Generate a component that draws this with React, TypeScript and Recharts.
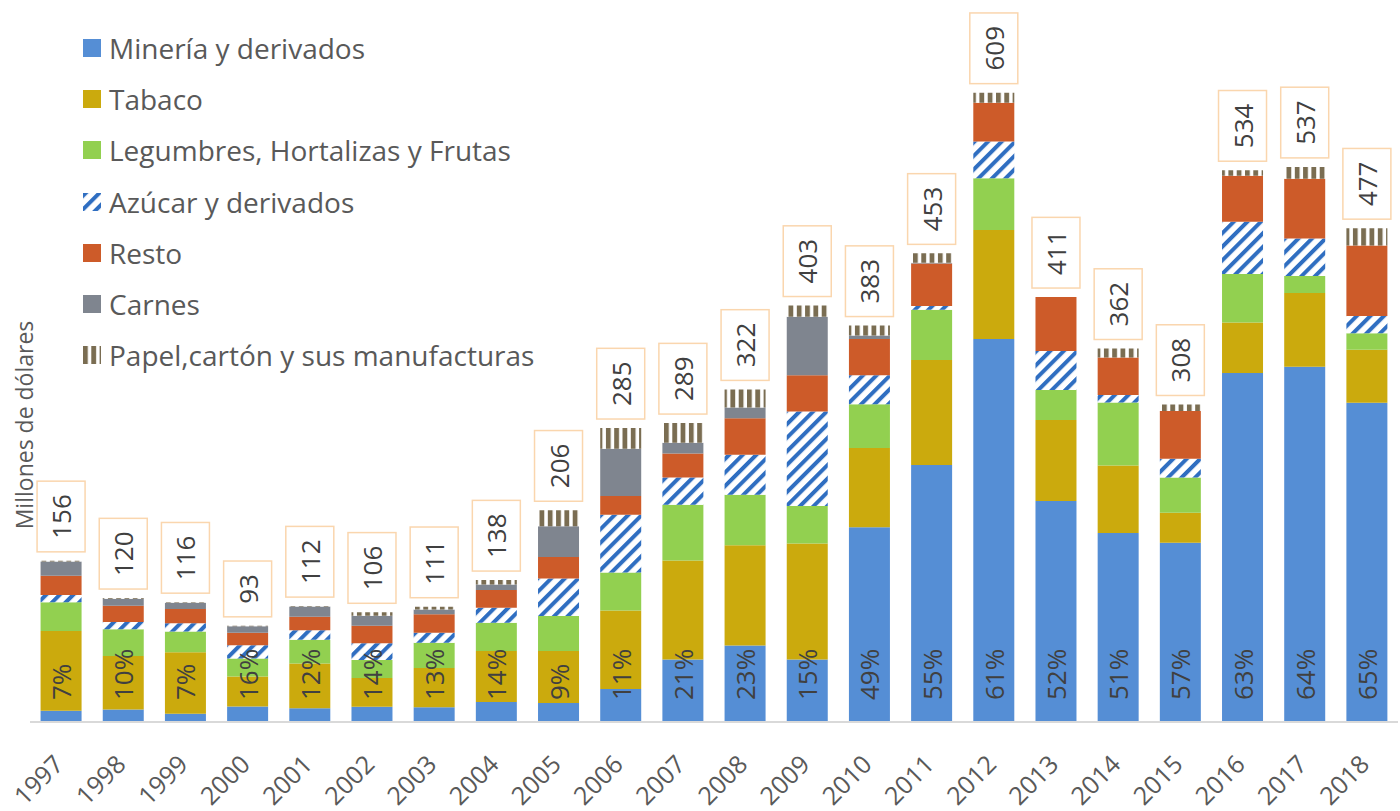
import { BarChart, Bar, XAxis, YAxis, LabelList } from "recharts";

const years = ["1997", "1998", "1999", "2000", "2001", "2002", "2003", "2004", "2005", "2006", "2007", "2008", "2009", "2010", "2011", "2012", "2013", "2014", "2015", "2016", "2017", "2018"];

const mineria = [11, 12, 8, 15, 13.4, 14.8, 14.4, 19.3, 18.5, 31.9, 60.6, 74, 60.6, 188.5, 248.8, 370.7, 214, 182.9, 173.6, 338, 343.9, 309];
const tabaco = [77, 51.8, 59.5, 29, 43.3, 27.8, 37.8, 49.4, 50.3, 76.1, 95.7, 97, 112.1, 76.7, 101.6, 105.7, 78.3, 65.5, 29, 48.8, 71.5, 51.3];
const legumbres = [28, 26.1, 20, 17.4, 22.9, 17.4, 24.6, 27.5, 33.9, 36.8, 54.1, 49, 36.4, 42.5, 48.6, 50, 29.2, 61, 34.1, 47, 16.4, 16];
const azucar = [7, 6.8, 8, 13, 9.3, 16.2, 9.7, 14.5, 36.2, 55.9, 26.2, 38.7, 91.6, 28.1, 3.8, 35.6, 37.6, 7.2, 18.1, 50.4, 36.2, 16.8];
const resto = [18.5, 15.8, 14, 11.9, 13, 17, 17.7, 17, 20.9, 18.1, 23.3, 35.4, 35, 34.9, 41.2, 37.6, 52.3, 36.2, 46.3, 44.6, 58, 68.2];
const carnes = [13.8, 6.8, 6, 6.5, 10, 9.7, 4.8, 5.5, 29.7, 45.8, 10.5, 10.5, 56.7, 3.5, 0.5, 0, 0, 0, 0, 0, 0, 0];
const papel = [0.7, 0.7, 0.5, 0.3, 0.3, 3.3, 2.6, 4.2, 15.5, 20, 19, 17.4, 10.8, 9.6, 9.2, 9.7, 0, 8.8, 6.3, 5.4, 11.4, 16.8];

// total labels and share of Minería (%)
const totals = [156, 120, 116, 93, 112, 106, 111, 138, 206, 285, 289, 322, 403, 383, 453, 609, 411, 362, 308, 534, 537, 477];
const shares = [7, 10, 7, 16, 12, 14, 13, 14, 9, 11, 21, 23, 15, 49, 55, 61, 52, 51, 57, 63, 64, 65];

const series = [
  { key: "mineria", label: "Minería y derivados", fill: "#558ED5" },
  { key: "tabaco", label: "Tabaco", fill: "#CBAA0D" },
  { key: "legumbres", label: "Legumbres, Hortalizas y Frutas", fill: "#92D050" },
  { key: "azucar", label: "Azúcar y derivados", fill: "url(#azucar)" },
  { key: "resto", label: "Resto", fill: "#CD5B29" },
  { key: "carnes", label: "Carnes", fill: "#7F858F" },
  { key: "papel", label: "Papel,cartón y sus manufacturas", fill: "url(#papel)" },
];

const data = years.map((year, i) => ({
  year,
  mineria: mineria[i],
  tabaco: tabaco[i],
  legumbres: legumbres[i],
  azucar: azucar[i],
  resto: resto[i],
  carnes: carnes[i],
  papel: papel[i],
  total: totals[i],
  share: shares[i],
  cap: 0.01, // invisible holder for the total label
}));

const FONT = "'Open Sans', sans-serif";

function Patterns({ prefix = "" }: { prefix?: string }) {
  return (
    <defs>
      <pattern id={prefix + "azucar"} patternUnits="userSpaceOnUse" width={9.6} height={9.6} patternTransform="rotate(45)">
        <rect width={9.6} height={9.6} fill="#fff" />
        <rect width={4} height={9.6} fill="#2F6EC1" />
      </pattern>
      <pattern id={prefix + "papel"} patternUnits="userSpaceOnUse" width={8.3} height={10}>
        <rect width={8.3} height={10} fill="#fff" />
        <rect width={4.8} height={10} fill="#7A6D52" />
      </pattern>
    </defs>
  );
}

const TotalLabel = (props: any) => {
  const { x, y, width, value } = props;
  const s = String(value);
  const len = s.length * 14.9;
  const boxH = len + 26;
  const boxW = 48;
  const cx = x + width / 2;
  const bottom = y - 9;
  const cy = bottom - boxH / 2;
  return (
    <g>
      <rect x={cx - boxW / 2} y={bottom - boxH} width={boxW} height={boxH} fill="#fff" stroke="#FAD6AE" strokeWidth={1.5} />
      <text x={cx} y={cy} transform={`rotate(-90 ${cx} ${cy})`} textAnchor="middle" dominantBaseline="central" fontSize={26} fill="#404040" fontFamily={FONT}>
        {s}
      </text>
    </g>
  );
};

const ShareLabel = (props: any) => {
  const { x, y, width, height, value } = props;
  const cx = x + width / 2;
  const by = y + height - 22;
  return (
    <text x={cx} y={by} transform={`rotate(-90 ${cx} ${by})`} textAnchor="start" dominantBaseline="central" fontSize={26} fill="#404040" fontFamily={FONT}>
      {value + "%"}
    </text>
  );
};

const YearTick = (props: any) => {
  const { x, y, payload } = props;
  const px = x + 4;
  const py = y + 36;
  return (
    <text x={px} y={py} transform={`rotate(-45 ${px} ${py})`} textAnchor="end" fontSize={25} fill="#595959" fontFamily={FONT}>
      {payload.value}
    </text>
  );
};

function LegendIcon({ s }: { s: (typeof series)[number] }) {
  return (
    <svg width={18} height={18} style={{ display: "block" }}>
      <Patterns prefix={"leg-" + s.key + "-"} />
      <rect width={18} height={18} fill={s.fill.startsWith("url") ? `url(#leg-${s.key}-${s.key})` : s.fill} />
    </svg>
  );
}

export default function App() {
  return (
    <div style={{ position: "absolute", left: 0, top: 0, width: 1400, height: 811, background: "#fff", fontFamily: FONT }}>
      <BarChart width={1400} height={811} data={data} margin={{ top: 0, right: 2, left: 0, bottom: 0 }} barCategoryGap="17%">
        <Patterns />
        <XAxis dataKey="year" height={89} interval={0} tickLine={false} axisLine={{ stroke: "#D9D9D9", strokeWidth: 2 }} tick={<YearTick />} />
        <YAxis
          width={30}
          domain={[0, 699]}
          tick={false}
          tickLine={false}
          axisLine={false}
          label={{
            content: (p: any) => {
              const vb = p.viewBox;
              const cx = vb.x + 24;
              const cy = 425;
              return (
                <text x={cx} y={cy} transform={`rotate(-90 ${cx} ${cy})`} textAnchor="middle" dominantBaseline="central" fontSize={23} fill="#595959" fontFamily={FONT}>
                  Millones de dólares
                </text>
              );
            },
          }}
        />
        {series.map((s) => (
          <Bar key={s.key} dataKey={s.key} stackId="a" fill={s.fill} name={s.label} isAnimationActive={false}>
            {s.key === "mineria" && <LabelList dataKey="share" content={<ShareLabel />} />}
          </Bar>
        ))}
        <Bar dataKey="cap" stackId="a" fill="none" legendType="none" isAnimationActive={false}>
          <LabelList dataKey="total" content={<TotalLabel />} />
        </Bar>
      </BarChart>
      <div style={{ position: "absolute", left: 83, top: 22, color: "#595959", fontSize: 28, lineHeight: 1 }}>
        {series.map((s) => (
          <div key={s.key} style={{ display: "flex", alignItems: "center", height: 51.3 }}>
            <LegendIcon s={s} />
            <span style={{ marginLeft: 8, whiteSpace: "nowrap" }}>{s.label}</span>
          </div>
        ))}
      </div>
    </div>
  );
}
